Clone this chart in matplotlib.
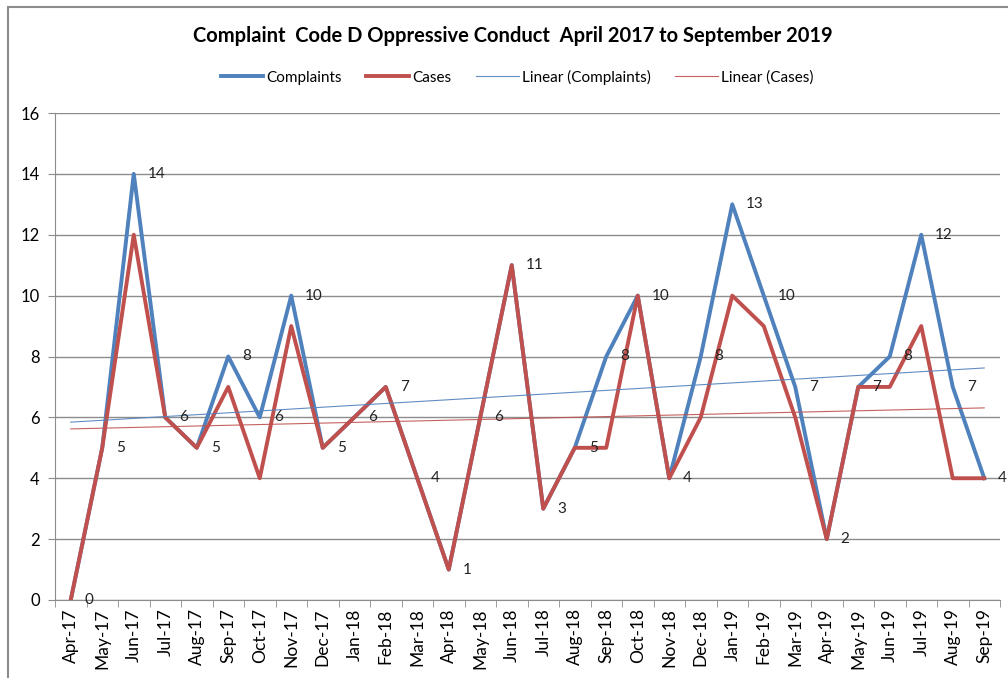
import numpy as np
import matplotlib
matplotlib.use("Agg")
import matplotlib.pyplot as plt
from matplotlib.patches import Rectangle

plt.rcParams["font.family"] = ["Lato", "DejaVu Sans"]

MONTHS = ["Apr-17", "May-17", "Jun-17", "Jul-17", "Aug-17", "Sep-17", "Oct-17",
          "Nov-17", "Dec-17", "Jan-18", "Feb-18", "Mar-18", "Apr-18", "May-18",
          "Jun-18", "Jul-18", "Aug-18", "Sep-18", "Oct-18", "Nov-18", "Dec-18",
          "Jan-19", "Feb-19", "Mar-19", "Apr-19", "May-19", "Jun-19", "Jul-19",
          "Aug-19", "Sep-19"]
COMPLAINTS = [0, 5, 14, 6, 5, 8, 6, 10, 5, 6, 7, 4, 1, 6, 11, 3, 5, 8, 10, 4,
              8, 13, 10, 7, 2, 7, 8, 12, 7, 4]
CASES = [0, 5, 12, 6, 5, 7, 4, 9, 5, 6, 7, 4, 1, 6, 11, 3, 5, 5, 10, 4,
         6, 10, 9, 6, 2, 7, 7, 9, 4, 4]

BLUE = "#4F81BD"
RED = "#C0504D"
GRID = "#8C8C8C"

W, H = 1008, 678
fig = plt.figure(figsize=(W / 100, H / 100), dpi=100)
ax = fig.add_axes([55 / W, (H - 600) / H, 945 / W, 487 / H])

x = np.arange(len(MONTHS))

# trend lines (least squares, like Excel's "Linear" trendline)
cb = np.polyfit(x, COMPLAINTS, 1)
rb = np.polyfit(x, CASES, 1)

ax.plot(x, COMPLAINTS, color=BLUE, lw=2.8, label="Complaints", zorder=3)
ax.plot(x, CASES, color=RED, lw=2.8, label="Cases", zorder=4)
ax.plot(x, np.polyval(cb, x), color=BLUE, lw=0.8, alpha=0.9,
        label="Linear (Complaints)", zorder=5)
ax.plot(x, np.polyval(rb, x), color=RED, lw=0.8, alpha=0.9,
        label="Linear (Cases)", zorder=5)

for xi, v in zip(x, COMPLAINTS):
    ax.annotate(str(v), (xi, v), xytext=(10, 0), textcoords="offset points",
                ha="left", va="center", fontsize=11, color="#222222", zorder=6)

# axes styling
ax.set_xlim(-0.5, len(MONTHS) - 0.5)
ax.set_ylim(0, 16)
ax.set_yticks(range(0, 17, 2))
ax.yaxis.grid(True, color=GRID, lw=1)
ax.set_axisbelow(True)
ax.set_xticks(x)
ax.set_xticklabels(MONTHS, rotation=90, fontsize=12.5)
ax.set_xticks(np.arange(-0.5, len(MONTHS)), minor=True)
ax.tick_params(axis="x", which="major", length=0, pad=6)
ax.tick_params(axis="x", which="minor", length=5, color=GRID)
ax.tick_params(axis="y", length=5, color=GRID, labelsize=12, pad=6)
for s in ["top", "right"]:
    ax.spines[s].set_visible(False)
for s in ["left", "bottom"]:
    ax.spines[s].set_color(GRID)

fig.text(513 / W, 1 - 36 / H,
         "Complaint  Code D Oppressive Conduct  April 2017 to September 2019",
         ha="center", va="center", fontsize=14.5, fontweight="bold")

fig.legend(loc="center", bbox_to_anchor=(517 / W, 1 - 77 / H), ncol=4,
           frameon=False, fontsize=11, handlelength=2.8, handletextpad=0.2,
           columnspacing=1.6)

fig.patches.append(Rectangle((8 / W, -0.1), 1.2, 1 - 7 / H + 0.1,
                             transform=fig.transFigure, fill=False,
                             edgecolor="#8C8C8C", lw=1.5))

fig.savefig("out.png", dpi=100)
